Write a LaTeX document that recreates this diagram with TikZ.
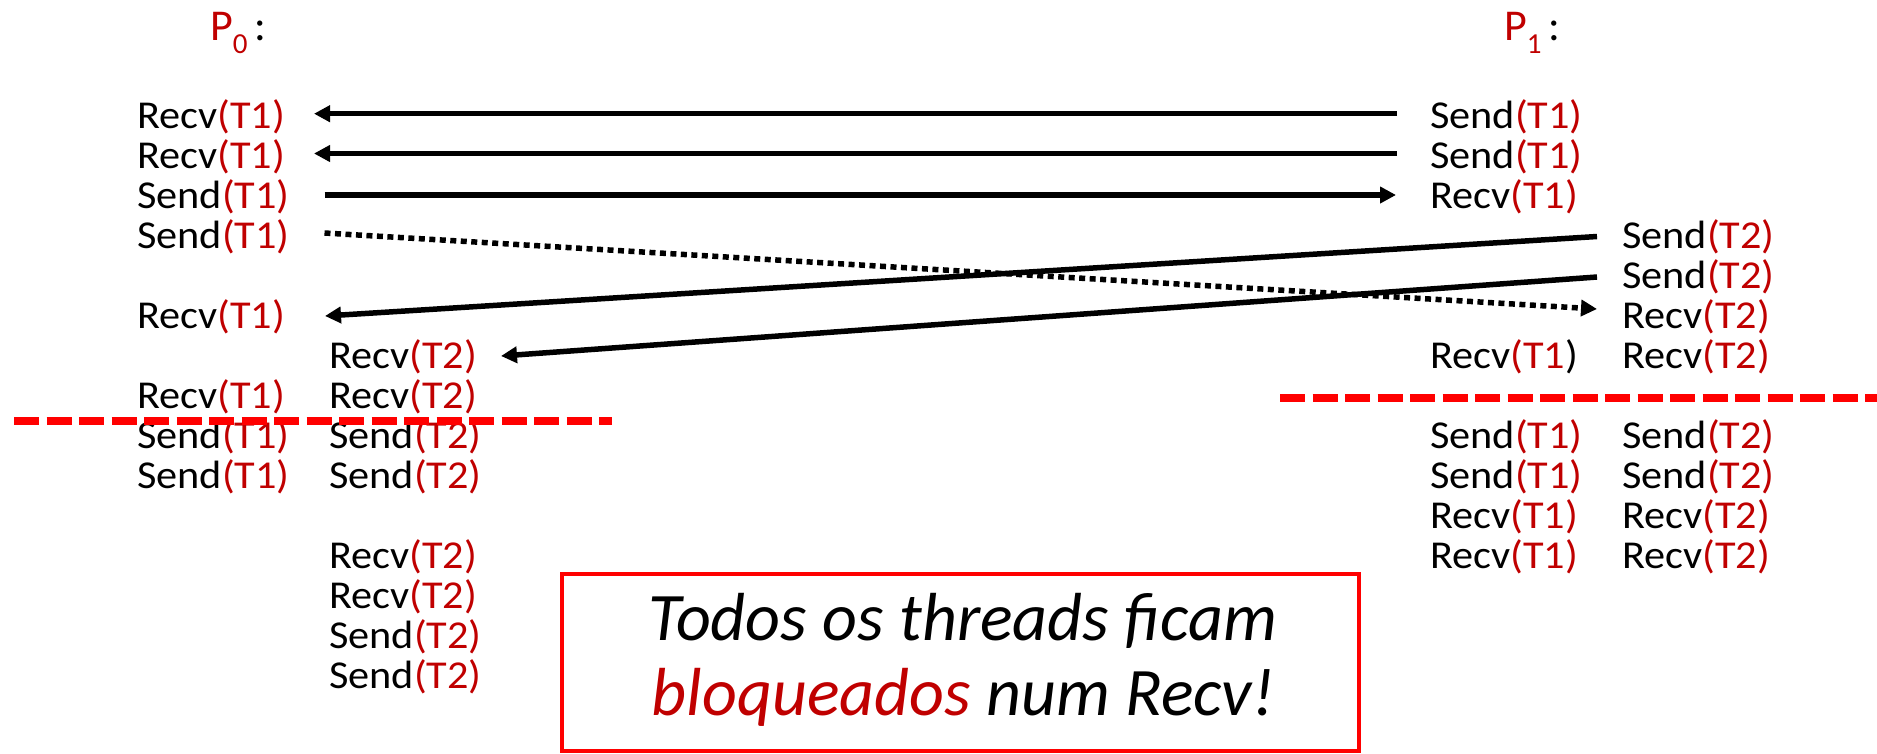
\documentclass[tikz,border=0pt]{standalone}
\usepackage{fontspec}
\usepackage{graphicx}
\setmainfont{Carlito}
\usetikzlibrary{arrows.meta}
\definecolor{dred}{HTML}{C00000}
\definecolor{bred}{HTML}{FF0000}
\newcommand{\op}[2]{\scalebox{1.07}[1]{#1\textcolor{dred}{(#2)}}}
\tikzset{
  optext/.style={anchor=base west, inner sep=0pt, font=\fontsize{39.5}{40}\selectfont},
  msg/.style={line width=5.5pt, -{Triangle[length=16pt,width=16pt]}},
  dotmsg/.style={msg, dash pattern=on 6pt off 4.5pt},
  sepline/.style={bred, line width=8.5pt, dash pattern=on 25pt off 7.5pt},
  note/.style={draw=bred, line width=3.5pt, minimum width=797pt, minimum height=177pt, inner sep=0pt},
  notetext/.style={anchor=base, inner sep=0pt, font=\fontsize{68}{75}\selectfont\itshape},
  proc/.style={anchor=base west, inner sep=0pt, font=\fontsize{44}{44}\selectfont}
}
\begin{document}
\begin{tikzpicture}[x=1pt,y=-1pt]
\useasboundingbox (0,0) rectangle (1877,753);
% process labels
\node[proc] (p0) at (210,40) {\textcolor{dred}{P\raisebox{-13pt}{\fontsize{29}{29}\selectfont 0}}\,:};
\node[proc] (p1) at (1504,40) {\textcolor{dred}{P\raisebox{-13pt}{\fontsize{29}{29}\selectfont 1}}\,:};
% P0, thread T1
\node[optext] (a0) at (137,128) {\op{Recv}{T1}};
\node[optext] (a1) at (137,168) {\op{Recv}{T1}};
\node[optext] (a2) at (137,208) {\op{Send}{T1}};
\node[optext] (a3) at (137,248) {\op{Send}{T1}};
\node[optext] (a5) at (137,328) {\op{Recv}{T1}};
\node[optext] (a7) at (137,408) {\op{Recv}{T1}};
\node[optext] (a8) at (137,448) {\op{Send}{T1}};
\node[optext] (a9) at (137,488) {\op{Send}{T1}};
% P0, thread T2
\node[optext] (b6) at (329,368) {\op{Recv}{T2}};
\node[optext] (b7) at (329,408) {\op{Recv}{T2}};
\node[optext] (b8) at (329,448) {\op{Send}{T2}};
\node[optext] (b9) at (329,488) {\op{Send}{T2}};
\node[optext] (b11) at (329,568) {\op{Recv}{T2}};
\node[optext] (b12) at (329,608) {\op{Recv}{T2}};
\node[optext] (b13) at (329,648) {\op{Send}{T2}};
\node[optext] (b14) at (329,688) {\op{Send}{T2}};
% P1, thread T1
\node[optext] (c0) at (1430,128) {\op{Send}{T1}};
\node[optext] (c1) at (1430,168) {\op{Send}{T1}};
\node[optext] (c2) at (1430,208) {\op{Recv}{T1}};
\node[optext] (c6) at (1430,368) {\scalebox{1.07}[1]{Recv\textcolor{dred}{(T1})}};
\node[optext] (c8) at (1430,448) {\op{Send}{T1}};
\node[optext] (c9) at (1430,488) {\op{Send}{T1}};
\node[optext] (c10) at (1430,528) {\op{Recv}{T1}};
\node[optext] (c11) at (1430,568) {\op{Recv}{T1}};
% P1, thread T2
\node[optext] (d3) at (1622,248) {\op{Send}{T2}};
\node[optext] (d4) at (1622,288) {\op{Send}{T2}};
\node[optext] (d5) at (1622,328) {\op{Recv}{T2}};
\node[optext] (d6) at (1622,368) {\op{Recv}{T2}};
\node[optext] (d8) at (1622,448) {\op{Send}{T2}};
\node[optext] (d9) at (1622,488) {\op{Send}{T2}};
\node[optext] (d10) at (1622,528) {\op{Recv}{T2}};
\node[optext] (d11) at (1622,568) {\op{Recv}{T2}};
% connector end points
\coordinate (a0e) at (314,113.7);
\coordinate (a1e) at (314,153.5);
\coordinate (a2e) at (324.5,195);
\coordinate (a3e) at (324.5,233);
\coordinate (a5e) at (325,316);
\coordinate (b6e) at (501,356);
\coordinate (c0w) at (1397,113.7);
\coordinate (c1w) at (1397,153.5);
\coordinate (c2w) at (1396,195);
\coordinate (d3w) at (1597,236.5);
\coordinate (d4w) at (1597,277);
\coordinate (d5w) at (1597,309);
% messages
\draw[msg] (c0w) -- (a0e);
\draw[msg] (c1w) -- (a1e);
\draw[msg] (a2e) -- (c2w);
\draw[dotmsg] (a3e) -- (d5w);
\draw[msg] (d3w) -- (a5e);
\draw[msg] (d4w) -- (b6e);
% deadlock lines
\coordinate (sl0) at (14,421);
\coordinate (sl1) at (612,421);
\coordinate (sr0) at (1280,398);
\coordinate (sr1) at (1877,398);
\draw[sepline] (sl0) -- (sl1);
\draw[sepline] (sr0) -- (sr1);
% note
\node[note] (box) at (960.5,662.5) {};
\node[notetext] (n1) at (963,640) {Todos os threads ficam};
\node[notetext] (n2) at (963,715) {\textcolor{dred}{bloqueados} num Recv!};
\end{tikzpicture}
\end{document}
